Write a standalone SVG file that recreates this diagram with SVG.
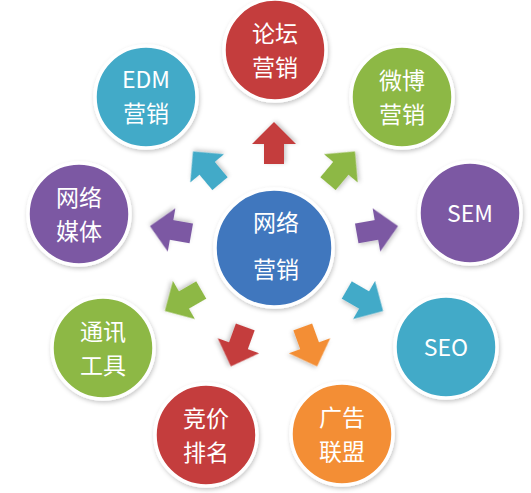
<svg xmlns="http://www.w3.org/2000/svg" width="531" height="493" viewBox="0 0 531 493">
<defs>
<filter id="sh" x="-20%" y="-20%" width="140%" height="140%">
<feDropShadow dx="1" dy="2" stdDeviation="2" flood-color="#000" flood-opacity="0.22"/>
</filter>
<polygon id="arw" points="84,-10 104,-10 104,-22 126,0 104,22 104,10 84,10"/>
</defs>
<style>
.n{stroke:#fff;stroke-width:3.5;filter:url(#sh)}
.t{font-family:"Noto Sans CJK SC","Noto Sans",sans-serif;fill:#fff;font-size:23px;text-anchor:middle;dominant-baseline:central}
.red{fill:#C43D3C}.teal{fill:#43AAC8}.green{fill:#8DB845}.purple{fill:#7C58A3}.orange{fill:#F38E35}.blue{fill:#3F77BE}
.a{filter:url(#sh)}
</style>
<rect width="531" height="493" fill="#fff"/>
<g id="connectors">
<use href="#arw" class="a red" transform="translate(274 248) rotate(-90)"/>
<use href="#arw" class="a green" transform="translate(274 248) rotate(-50)"/>
<use href="#arw" class="a purple" transform="translate(274 248) rotate(-10)"/>
<use href="#arw" class="a teal" transform="translate(274 248) rotate(30)"/>
<use href="#arw" class="a orange" transform="translate(274 248) rotate(70)"/>
<use href="#arw" class="a red" transform="translate(274 248) rotate(110)"/>
<use href="#arw" class="a green" transform="translate(274 248) rotate(150)"/>
<use href="#arw" class="a purple" transform="translate(274 248) rotate(190)"/>
<use href="#arw" class="a teal" transform="translate(274 248) rotate(230)"/>
</g>
<g id="center">
<circle class="n blue" cx="274" cy="248" r="59"/>
<text class="t" x="276" y="221" font-size="29">网络</text>
<text class="t" x="276" y="268" font-size="29">营销</text>
</g>
<g id="luntan">
<circle class="n red" cx="275" cy="50" r="51"/>
<text class="t" x="275" y="32">论坛</text>
<text class="t" x="275" y="65.5">营销</text>
</g>
<g id="weibo">
<circle class="n green" cx="402" cy="97" r="51"/>
<text class="t" x="402" y="79">微博</text>
<text class="t" x="402" y="112.5">营销</text>
</g>
<g id="sem">
<circle class="n purple" cx="470" cy="213" r="51"/>
<text class="t" x="470" y="212" font-size="24">SEM</text>
</g>
<g id="seo">
<circle class="n teal" cx="446" cy="347" r="51"/>
<text class="t" x="446" y="346" font-size="24">SEO</text>
</g>
<g id="guanggao">
<circle class="n orange" cx="342" cy="434" r="51"/>
<text class="t" x="342" y="416">广告</text>
<text class="t" x="342" y="449.5">联盟</text>
</g>
<g id="jingjia">
<circle class="n red" cx="206" cy="435" r="51"/>
<text class="t" x="206" y="417">竞价</text>
<text class="t" x="206" y="450.5">排名</text>
</g>
<g id="tongxun">
<circle class="n green" cx="103" cy="348" r="51"/>
<text class="t" x="103" y="330">通讯</text>
<text class="t" x="103" y="363.5">工具</text>
</g>
<g id="meiti">
<circle class="n purple" cx="79" cy="214" r="51"/>
<text class="t" x="79" y="196">网络</text>
<text class="t" x="79" y="229.5">媒体</text>
</g>
<g id="edm">
<circle class="n teal" cx="146" cy="97" r="51"/>
<text class="t" x="146" y="78">EDM</text>
<text class="t" x="146" y="111.5">营销</text>
</g>
</svg>
